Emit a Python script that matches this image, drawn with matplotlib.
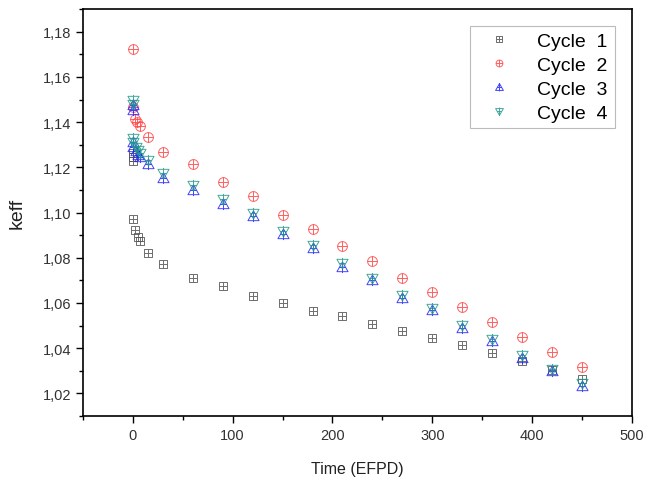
import matplotlib
matplotlib.use('Agg')
import matplotlib.pyplot as plt
from matplotlib.path import Path
from matplotlib.ticker import FuncFormatter, MultipleLocator
import numpy as np

plt.rcParams['font.family'] = ['Liberation Sans', 'DejaVu Sans']

## --- Data --- ##

# burnup steps in effective full power days (EFPD) and k-effective per cycle
late_steps = [90, 120, 150, 180, 210, 240, 270, 300, 330, 360, 390, 420, 450]

cycle1_t = [0, 0, 0, 0, 2, 5, 7, 15, 30, 60] + late_steps
cycle1_k = [1.1265, 1.1245, 1.1228, 1.0971, 1.0923, 1.0892, 1.0874, 1.0821, 1.0772, 1.0710,
            1.0675, 1.0631, 1.0600, 1.0564, 1.0542, 1.0507, 1.0476, 1.0445, 1.0414, 1.0379,
            1.0343, 1.0303, 1.0264]

cycle2_t = [0, 0, 2, 4, 7, 15, 30, 60] + late_steps
cycle2_k = [1.1723, 1.1465, 1.1413, 1.1400, 1.1383, 1.1334, 1.1268, 1.1214,
            1.1135, 1.1073, 1.0989, 1.0927, 1.0852, 1.0785, 1.0710, 1.0648, 1.0582, 1.0516,
            1.0449, 1.0383, 1.0317]

cycle3_t = [0, 0, 0, 0, 3, 5, 7, 15, 30, 60] + late_steps
cycle3_k = [1.1475, 1.1455, 1.1310, 1.1290, 1.1272, 1.1255, 1.1245, 1.1215, 1.1155, 1.1100,
            1.1040, 1.0985, 1.0903, 1.0843, 1.0760, 1.0700, 1.0622, 1.0568, 1.0490, 1.0430,
            1.0355, 1.0300, 1.0232]

cycle4_t = [0, 0, 0, 0, 3, 5, 7, 15, 30, 60] + late_steps
cycle4_k = [1.1500, 1.1480, 1.1330, 1.1310, 1.1290, 1.1275, 1.1262, 1.1232, 1.1175, 1.1120,
            1.1060, 1.1000, 1.0918, 1.0857, 1.0775, 1.0712, 1.0635, 1.0580, 1.0503, 1.0442,
            1.0370, 1.0310, 1.0248]


## --- Marker shapes (outline + inner cross) --- ##

def with_cross(outline_verts, hline, vline):
    verts = list(outline_verts) + [outline_verts[0]] + list(hline) + list(vline)
    n = len(outline_verts)
    codes = [Path.MOVETO] + [Path.LINETO] * (n - 1) + [Path.CLOSEPOLY]
    codes += [Path.MOVETO, Path.LINETO, Path.MOVETO, Path.LINETO]
    return Path(verts, codes)

square_plus = with_cross([(-1, -1), (1, -1), (1, 1), (-1, 1)],
                         [(-1, 0), (1, 0)], [(0, -1), (0, 1)])

theta = np.linspace(0, 2 * np.pi, 40)[:-1]
circle_plus = with_cross(list(zip(np.cos(theta), np.sin(theta))),
                         [(-1, 0), (1, 0)], [(0, -1), (0, 1)])

tri_up_plus = with_cross([(0, 1), (-1, -0.75), (1, -0.75)],
                         [(-0.55, 0.0), (0.55, 0.0)], [(0, -1.0), (0, 1)])

tri_down_plus = with_cross([(0, -1), (1, 0.75), (-1, 0.75)],
                           [(-0.55, 0.0), (0.55, 0.0)], [(0, -1), (0, 1.0)])


## --- Plot --- ##

fig = plt.figure(figsize=(6.47, 4.81), dpi=100)
ax = fig.add_axes([0.128, 0.133, 0.849, 0.846])

series = [
    (cycle1_t, cycle1_k, square_plus, 6.3, '#555555', 'Cycle  1'),
    (cycle2_t, cycle2_k, circle_plus, 7.0, '#ff4444', 'Cycle  2'),
    (cycle3_t, cycle3_k, tri_up_plus, 8.0, '#2222ff', 'Cycle  3'),
    (cycle4_t, cycle4_k, tri_down_plus, 8.0, '#229988', 'Cycle  4'),
]
for t, k, marker, size, color, label in series:
    ax.plot(t, k, linestyle='none', marker=marker, markersize=size,
            markerfacecolor='none', markeredgecolor=color, markeredgewidth=0.7,
            alpha=0.85, label=label)

ax.set_xlim(-50, 500)
ax.set_ylim(1.01, 1.19)
ax.xaxis.set_major_locator(MultipleLocator(100))
ax.xaxis.set_minor_locator(MultipleLocator(50))
ax.yaxis.set_major_locator(MultipleLocator(0.02))
ax.yaxis.set_minor_locator(MultipleLocator(0.01))
ax.yaxis.set_major_formatter(FuncFormatter(lambda v, p: f"{v:.2f}".replace('.', ',')))

ax.tick_params(which='both', direction='out', top=False, right=False, width=1.0,
               labelsize=10.5, labelcolor='#333333')
ax.tick_params(which='major', length=5)
ax.tick_params(which='minor', length=3)
for spine in ax.spines.values():
    spine.set_linewidth(1.2)

ax.set_xlabel('Time (EFPD)', fontsize=11.5, labelpad=14, color='#222222')
ax.set_ylabel('keff', fontsize=14, labelpad=12, color='#222222')

leg = ax.legend(loc='upper right', bbox_to_anchor=(0.986, 0.983), fontsize=14,
                fancybox=False, edgecolor='#aaaaaa', markerscale=0.7,
                handletextpad=0.9, labelspacing=0.32, borderpad=0.35,
                handlelength=2.2)
leg.get_frame().set_linewidth(0.8)

fig.savefig('out.png', dpi=100)
